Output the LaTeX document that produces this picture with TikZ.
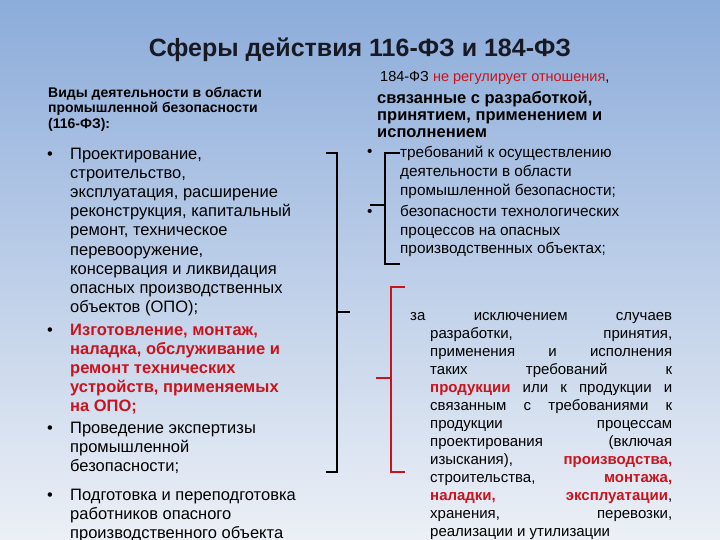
\documentclass[tikz,border=0pt]{standalone}
\usepackage{fontspec}
\setmainfont{Liberation Sans}
\definecolor{bgtop}{RGB}{140,172,218}
\definecolor{bgbot}{RGB}{236,240,246}
\definecolor{redt}{RGB}{200,20,30}
\definecolor{titlec}{RGB}{25,25,35}
\tikzset{
  ln/.style={anchor=base west, inner sep=0pt, font=\fontsize{16.5}{18}\selectfont},
  lnr/.style={ln, text=redt, font=\fontsize{16.5}{18}\selectfont\bfseries},
  lh/.style={anchor=base west, inner sep=0pt, font=\fontsize{14}{16}\selectfont\bfseries},
  rh/.style={anchor=base west, inner sep=0pt, font=\fontsize{16.5}{16}\selectfont\bfseries},
  rl/.style={anchor=base west, inner sep=0pt, font=\fontsize{15.3}{16}\selectfont},
  rb/.style={anchor=base west, inner sep=0pt, font=\fontsize{15}{16}\selectfont},
  brk/.style={line width=1.4pt},
  rbrk/.style={line width=1.6pt, draw=redt}
}
\newcommand{\jl}[2]{\makebox[#1][s]{#2}}
\begin{document}
\begin{tikzpicture}[x=1pt,y=-1pt]
\useasboundingbox (0,0) rectangle (720,540);
\shade[top color=bgtop, bottom color=bgbot] (0,0) rectangle (720,540);
\clip (0,0) rectangle (720,540);
\node[anchor=base, inner sep=0pt, text=titlec, font=\fontsize{25}{28}\selectfont\bfseries] (title) at (360,57) {Сферы действия 116-ФЗ и 184-ФЗ};
% left heading
\node[lh] (lh1) at (48,98) {Виды деятельности в области};
\node[lh] (lh2) at (48,113) {промышленной безопасности};
\node[lh] (lh3) at (48,129) {(116-ФЗ):};
% left list
\foreach \y in {160,335,433,500} \node[ln] at (47,\y) {•};
\node[ln] (l1) at (70,160) {Проектирование,};
\node[ln] at (70,179) {строительство,};
\node[ln] at (70,198) {эксплуатация, расширение};
\node[ln] at (70,217) {реконструкция, капитальный};
\node[ln] at (70,236) {ремонт, техническое};
\node[ln] at (70,255) {перевооружение,};
\node[ln] at (70,274) {консервация и ликвидация};
\node[ln] at (70,293) {опасных производственных};
\node[ln] at (70,312) {объектов (ОПО);};
\node[lnr] at (70,335) {Изготовление, монтаж,};
\node[lnr] at (70,354) {наладка, обслуживание и};
\node[lnr] at (70,373) {ремонт технических};
\node[lnr] at (70,392) {устройств, применяемых};
\node[lnr] at (70,411) {на ОПО;};
\node[ln] at (70,433) {Проведение экспертизы};
\node[ln] at (70,452) {промышленной};
\node[ln] at (70,471) {безопасности;};
\node[ln] at (70,500) {Подготовка и переподготовка};
\node[ln] at (70,519) {работников опасного};
\node[ln] at (70,538) {производственного объекта};
% right heading
\node[anchor=base west, inner sep=0pt, font=\fontsize{14.5}{16}\selectfont] (rh) at (380,82) {184-ФЗ \textcolor{redt}{не регулирует отношения},};
\node[rh] (rh2) at (377,104) {связанные с разработкой,};
\node[rh] (rh3) at (377,121) {принятием, применением и};
\node[rh] (rh4) at (377,138) {исполнением};
% right list
\node[rl] at (367,157) {•};
\node[rl] at (367,216) {•};
\node[rl] (r1) at (400,158) {требований к осуществлению};
\node[rl] at (400,177) {деятельности в области};
\node[rl] at (400,196) {промышленной безопасности;};
\node[rl] at (400,217) {безопасности технологических};
\node[rl] at (400,236) {процессов на опасных};
\node[rl] at (400,254) {производственных объектах;};
% justified block
\node[rb] (j0) at (410,320) {\jl{262pt}{за исключением случаев}};
\node[rb] at (430,338) {\jl{242pt}{разработки, принятия,}};
\node[rb] at (430,356) {\jl{242pt}{применения и исполнения}};
\node[rb] at (430,374) {\jl{242pt}{таких требований к}};
\node[rb] at (430,392) {\jl{242pt}{\textcolor{redt}{\bfseries продукции} или к продукции и}};
\node[rb] at (430,410) {\jl{242pt}{связанным с требованиями к}};
\node[rb] at (430,428) {\jl{242pt}{продукции процессам}};
\node[rb] at (430,446) {\jl{242pt}{проектирования (включая}};
\node[rb] at (430,464) {\jl{242pt}{изыскания), \textcolor{redt}{\bfseries производства,}}};
\node[rb] at (430,482) {\jl{242pt}{строительства, \textcolor{redt}{\bfseries монтажа,}}};
\node[rb] at (430,500) {\jl{242pt}{\textcolor{redt}{\bfseries наладки,} \textcolor{redt}{\bfseries эксплуатации},}};
\node[rb] at (430,518) {\jl{242pt}{хранения, перевозки,}};
\node[rb] at (430,536) {реализации и утилизации};
% brackets
\draw[brk] (326,153) -- (337,153) -- (337,472) -- (326,472);
\draw[brk] (337,312) -- (350,312);
\draw[brk] (400,153) -- (385,153) -- (385,264) -- (400,264);
\draw[brk] (385,205) -- (370,205);
\draw[rbrk] (405,287) -- (391,287) -- (391,472) -- (405,472);
\draw[rbrk] (391,378) -- (376,378);
\end{tikzpicture}
\end{document}
